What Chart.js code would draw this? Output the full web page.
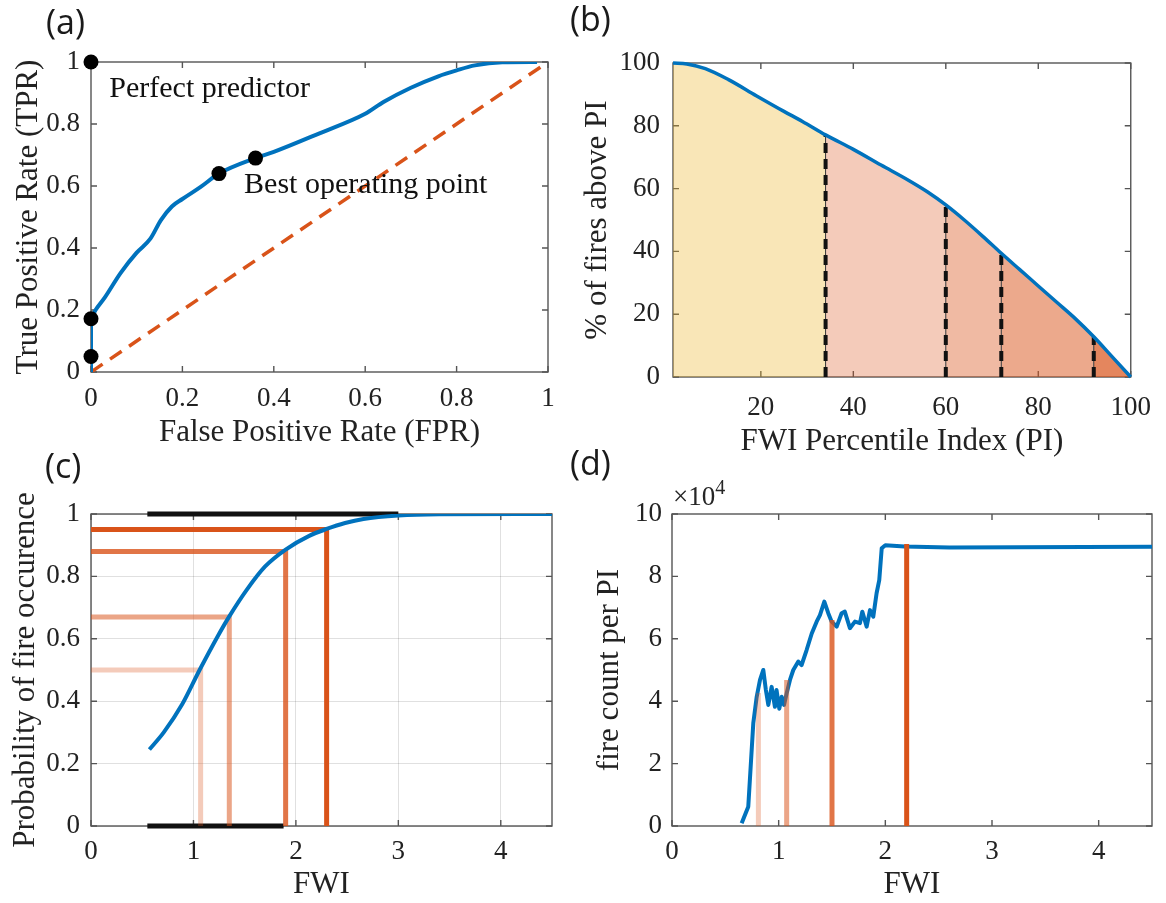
<!DOCTYPE html>
<html>
<head>
<meta charset="utf-8">
<script src="https://cdn.jsdelivr.net/npm/chart.js@4.4.0/dist/chart.umd.min.js"></script>
<style>
  body { margin: 0; background: #fff; width: 1166px; height: 903px; position: relative; overflow: hidden; }
  canvas { position: absolute; }
  .tag { position: absolute; font-family: "Open Sans", Lato, sans-serif; font-size: 34px; line-height: 1; color: #1a1a1a; }
  .exp { position: absolute; font-family: "Liberation Serif", serif; font-size: 27px; line-height: 1; color: #262626; }
  .exp span { position: relative; top: -11px; font-size: 20px; }
</style>
</head>
<body>
<canvas id="chartA" width="583" height="452" style="left:0;top:0"></canvas>
<canvas id="chartB" width="591" height="470" style="left:575px;top:0"></canvas>
<canvas id="chartC" width="583" height="451" style="left:0;top:452px"></canvas>
<canvas id="chartD" width="583" height="451" style="left:583px;top:452px"></canvas>
<div class="tag" style="left:46px;top:4px">(a)</div>
<div class="tag" style="left:570px;top:1px">(b)</div>
<div class="tag" style="left:45px;top:448px">(c)</div>
<div class="tag" style="left:570px;top:445px">(d)</div>
<div class="exp" style="left:673px;top:483px">×10<span>4</span></div>
<script>
// (a) ROC curve
const rocFpr = [0, 0, 0.01, 0.03, 0.065, 0.1, 0.13, 0.153, 0.177, 0.2, 0.24, 0.28, 0.36, 0.4, 0.5, 0.6, 0.64, 0.7, 0.76, 0.8, 0.84, 0.9, 0.976];
const rocTpr = [0, 0.172, 0.2, 0.24, 0.32, 0.385, 0.43, 0.49, 0.534, 0.558, 0.597, 0.64, 0.69, 0.71, 0.77, 0.833, 0.871, 0.917, 0.954, 0.973, 0.989, 0.999, 1.0];
const diagFpr = [0, 0.985];
const diagTpr = [0, 0.985];
const markFpr = [0, 0, 0, 0.28, 0.36];
const markTpr = [1, 0.172, 0.05, 0.64, 0.69];
const noteText = ["Perfect predictor", "Best operating point"];
const noteFpr = [0.04, 0.335];
const noteTpr = [0.913, 0.603];
const aTicks = [0, 0.2, 0.4, 0.6, 0.8, 1];

// (b) % of fires above percentile index
const piValues = [1, 4, 8, 13, 19, 25, 29, 34, 40, 46, 52, 56, 60, 64, 68, 72, 76, 80, 84, 88, 92, 96, 100];
const pctFires = [100, 99.7, 98.2, 94.7, 89.6, 84.6, 81.4, 77.1, 72.5, 67.5, 62.6, 59.0, 54.8, 50, 44.8, 39.4, 34.2, 29, 23.8, 18.6, 12.8, 6.4, 0];
const piSplits = [34, 60, 72, 92];
const bXTicks = [20, 40, 60, 80, 100];
const bYTicks = [0, 20, 40, 60, 80, 100];

// (c) probability of fire occurence
const cFwi = [0.57, 0.71, 0.89, 1.06, 1.24, 1.35, 1.52, 1.70, 1.90, 2.13, 2.30, 2.48, 2.66, 3.0, 3.4, 4.5];
const cProb = [0.245, 0.30, 0.39, 0.50, 0.61, 0.672, 0.757, 0.832, 0.886, 0.93, 0.952, 0.971, 0.984, 0.995, 0.999, 1.0];
const cCutFwi = [1.07, 1.35, 1.90, 2.30];
const cCutProb = [0.50, 0.67, 0.88, 0.95];
const cTopFwi = [0.55, 3.0];
const cBotFwi = [0.55, 1.88];
const cXTicks = [0, 1, 2, 3, 4];
const cYTicks = [0, 0.2, 0.4, 0.6, 0.8, 1];

// (d) fire count per PI (x 10^4)
const dFwi = [0.653, 0.715, 0.762, 0.794, 0.825, 0.856, 0.88, 0.903, 0.934, 0.965, 0.98, 1.006, 1.028, 1.05, 1.075, 1.106, 1.137, 1.184, 1.215, 1.262, 1.31, 1.356, 1.387, 1.428, 1.465, 1.497, 1.544, 1.59, 1.62, 1.668, 1.715, 1.762, 1.784, 1.825, 1.856, 1.887, 1.918, 1.943, 1.966, 2.0, 2.18, 2.6, 4.5];
const dCount = [0.09, 0.62, 3.29, 4.14, 4.68, 5.0, 4.36, 3.88, 4.46, 3.82, 4.36, 3.76, 4.14, 3.88, 4.25, 4.68, 5.0, 5.27, 5.16, 5.64, 6.17, 6.55, 6.76, 7.19, 6.82, 6.55, 6.39, 6.82, 6.87, 6.34, 6.55, 6.5, 6.87, 6.39, 6.92, 6.71, 7.46, 7.88, 8.9, 9.0, 8.96, 8.93, 8.95];
const dBarFwi = [0.81, 1.075, 1.5, 2.2];
const dBarTop = [4.26, 4.68, 6.6, 9.04];
const dXTicks = [0, 1, 2, 3, 4];
const dYTicks = [0, 2, 4, 6, 8, 10];

const serif = "'Liberation Serif', 'Times New Roman', serif";
const ink = "#222";
const blue = "#0072BD";
const orange = (a) => `rgba(217,83,25,${a})`;
const cutShades = [0.3, 0.52, 0.8, 1];

const pts = (xs, ys) => xs.map((x, i) => ({ x, y: ys[i] }));

// box round the axes with small inward ticks, drawn under the data
const boxTicks = {
  id: "boxTicks",
  beforeDatasetsDraw(chart) {
    const { ctx, chartArea: a, scales: { x, y } } = chart;
    ctx.save();
    ctx.strokeStyle = "#555";
    ctx.lineWidth = 1.4;
    ctx.strokeRect(a.left, a.top, a.right - a.left, a.bottom - a.top);
    ctx.beginPath();
    x.ticks.forEach((t) => {
      const px = x.getPixelForValue(t.value);
      ctx.moveTo(px, a.bottom); ctx.lineTo(px, a.bottom - 6);
      ctx.moveTo(px, a.top); ctx.lineTo(px, a.top + 6);
    });
    y.ticks.forEach((t) => {
      const py = y.getPixelForValue(t.value);
      ctx.moveTo(a.left, py); ctx.lineTo(a.left + 6, py);
      ctx.moveTo(a.right, py); ctx.lineTo(a.right - 6, py);
    });
    ctx.stroke();
    ctx.restore();
  },
};

const notesA = {
  id: "notesA",
  afterDatasetsDraw(chart) {
    const { ctx, scales: { x, y } } = chart;
    ctx.save();
    ctx.font = `30px ${serif}`;
    ctx.fillStyle = "#111";
    ctx.textBaseline = "middle";
    noteText.forEach((t, i) => ctx.fillText(t, x.getPixelForValue(noteFpr[i]), y.getPixelForValue(noteTpr[i])));
    ctx.restore();
  },
};

const makePanel = (id, area, xs, ys, datasets, extra) => {
  const cv = document.getElementById(id);
  const W = cv.width, H = cv.height;
  const axis = (spec, isX) => ({
    type: "linear",
    min: spec.min,
    max: spec.max,
    afterBuildTicks: (s) => { s.ticks = spec.ticks.map((v) => ({ value: v })); },
    afterFit: (s) => { if (isX) s.height = H - area.b; else s.width = area.l; },
    grid: { display: !!spec.grid, color: "rgba(0,0,0,0.12)", drawTicks: false },
    border: { display: false },
    ticks: { font: { family: serif, size: 27 }, color: ink, padding: spec.pad, callback: (v) => String(v), autoSkip: false, maxRotation: 0 },
    title: {
      display: true, text: spec.title, color: ink,
      font: { family: serif, size: 31 },
      padding: isX ? { top: 0, bottom: spec.tpad } : { top: spec.tpad, bottom: 0 },
    },
  });
  return new Chart(cv, {
    type: "line",
    data: { datasets },
    options: {
      responsive: false,
      animation: false,
      events: [],
      layout: { padding: { left: 0, top: area.t, right: W - area.r, bottom: 0 } },
      elements: { point: { radius: 0 }, line: { tension: 0 } },
      plugins: { legend: { display: false }, tooltip: { enabled: false } },
      scales: { x: axis(xs, true), y: axis(ys, false) },
    },
    plugins: [boxTicks].concat(extra || []),
  });
};

// (a)
const rocPts = pts(rocFpr, rocTpr);
makePanel("chartA", { l: 91, t: 62, r: 548, b: 372 },
  { min: 0, max: 1, ticks: aTicks, pad: 11, title: "False Positive Rate (FPR)", tpad: 1 },
  { min: 0, max: 1, ticks: aTicks, pad: 11, title: "True Positive Rate (TPR)", tpad: 10 },
  [
    { data: pts(markFpr, markTpr), showLine: false, pointRadius: 7.5, pointBackgroundColor: "#000", pointBorderWidth: 0, clip: false },
    { data: rocPts.slice(0, 2), borderColor: blue, borderWidth: 4 },
    { data: rocPts.slice(1), borderColor: blue, borderWidth: 4, tension: 0.4, cubicInterpolationMode: "monotone", borderJoinStyle: "round" },
    { data: pts(diagFpr, diagTpr), borderColor: orange(1), borderWidth: 3.5, borderDash: [14, 9] },
  ],
  [notesA]);

// (b)
const bEdges = [piValues[0], ...piSplits, piValues[piValues.length - 1]];
const bFillColors = ["rgba(237,177,32,0.32)", orange(0.3), orange(0.4), orange(0.5), orange(0.7)];
const bCurve = pts(piValues, pctFires);
const bFills = bFillColors.map((c, i) => ({
  data: bCurve.filter((p) => p.x >= bEdges[i] && p.x <= bEdges[i + 1]),
  fill: "origin", backgroundColor: c, borderColor: "transparent", borderWidth: 0,
  tension: 0.4, cubicInterpolationMode: "monotone",
}));
const bDashes = [];
piSplits.forEach((s) => {
  const top = pctFires[piValues.indexOf(s)];
  bDashes.push({ data: [{ x: s, y: 0 }, { x: s, y: top }], borderColor: "#111", borderWidth: 4, borderDash: [10, 6] });
  bDashes.push({ data: [{ x: s, y: 0 }, { x: s, y: top }], borderColor: "#333", borderWidth: 1 });
});
makePanel("chartB", { l: 98, t: 63, r: 563, b: 377 },
  { min: 1, max: 100, ticks: bXTicks, pad: 15, title: "FWI Percentile Index (PI)", tpad: 10 },
  { min: 0, max: 100, ticks: bYTicks, pad: 13, title: "% of fires above PI", tpad: 4 },
  [
    { data: bCurve, borderColor: blue, borderWidth: 3.5, clip: false, tension: 0.4, cubicInterpolationMode: "monotone" },
    ...bDashes,
    ...bFills,
  ]);

// (c)
const cCuts = cCutFwi.map((f, i) => ({
  data: [{ x: 0, y: cCutProb[i] }, { x: f, y: cCutProb[i] }, { x: f, y: 0 }],
  borderColor: orange(cutShades[i]), borderWidth: 5, borderJoinStyle: "miter", borderCapStyle: "butt",
}));
makePanel("chartC", { l: 91, t: 62, r: 552, b: 374 },
  { min: 0, max: 4.5, ticks: cXTicks, pad: 10, title: "FWI", tpad: 0, grid: true },
  { min: 0, max: 1, ticks: cYTicks, pad: 11, title: "Probability of fire occurence", tpad: 7, grid: true },
  [
    { data: pts(cFwi, cProb), borderColor: blue, borderWidth: 4, tension: 0.4, cubicInterpolationMode: "monotone" },
    ...cCuts.reverse(),
    { data: pts(cTopFwi, [1, 1]), borderColor: "#111", borderWidth: 5, clip: false },
    { data: pts(cBotFwi, [0, 0]), borderColor: "#111", borderWidth: 5, clip: false },
  ]);

// (d)
const dBars = dBarFwi.map((f, i) => ({
  data: [{ x: f, y: 0 }, { x: f, y: dBarTop[i] }],
  borderColor: orange(cutShades[i]), borderWidth: 5, borderCapStyle: "butt",
}));
makePanel("chartD", { l: 89, t: 62, r: 569, b: 374 },
  { min: 0, max: 4.5, ticks: dXTicks, pad: 10, title: "FWI", tpad: 0 },
  { min: 0, max: 10, ticks: dYTicks, pad: 10, title: "fire count per PI", tpad: 8 },
  [
    ...dBars.reverse(),
    { data: pts(dFwi, dCount), borderColor: blue, borderWidth: 4, borderJoinStyle: "round" },
  ]);
</script>
</body>
</html>
